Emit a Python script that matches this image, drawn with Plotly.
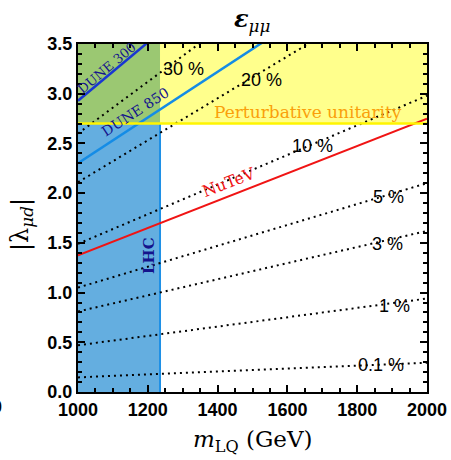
import plotly.graph_objects as go

# ---------------- data ----------------
m_ends = [1000, 2000]                      # GeV, ends of every straight contour
contour_labels = ["0.1 %", "1 %", "3 %", "5 %", "10 %", "20 %", "30 %"]
contour_lam_1000 = [0.147, 0.47, 0.81, 1.05, 1.49, 2.11, 2.60]
contour_lam_2000 = [0.295, 0.94, 1.62, 2.10, 2.98, 4.22, 5.20]
contour_label_m = [1868, 1908, 1888, 1891, 1671, 1527, 1301]
contour_label_lam = [0.27, 0.87, 1.49, 1.96, 2.47, 3.14, 3.25]

nutev_lam = [1.375, 2.75]
dune300_lam = [2.93, 5.86]
dune850_lam = [2.30, 4.60]

lhc_m_bound = 1235          # GeV
unitarity_lam = 2.70
x_range = [1000, 2000]
y_range = [0.0, 3.5]

W, H = 451, 460
ML, MR, MT, MB = 78, 24, 44, 68
PW, PH = W - ML - MR, H - MT - MB


def px(x):   # pixel -> paper x
    return (x - ML) / PW


def py(y):   # pixel -> paper y
    return (H - MB - y) / PH


fig = go.Figure()


# ---------------- shaded regions ----------------
def region(x0, x1, y0, y1, color):
    fig.add_trace(go.Scatter(x=[x0, x1, x1, x0, x0], y=[y0, y0, y1, y1, y0],
                             mode="lines", fill="toself", fillcolor=color,
                             line=dict(width=0), hoverinfo="skip", showlegend=False))


region(x_range[0], lhc_m_bound, y_range[0], unitarity_lam, "rgb(100,174,224)")
region(lhc_m_bound, x_range[1], unitarity_lam, y_range[1], "rgb(255,255,140)")
region(x_range[0], lhc_m_bound, unitarity_lam, y_range[1], "rgb(155,200,114)")

# LHC boundary line
fig.add_trace(go.Scatter(x=[lhc_m_bound, lhc_m_bound], y=[y_range[0], unitarity_lam],
                         mode="lines", line=dict(color="rgb(30,144,230)", width=2),
                         hoverinfo="skip", showlegend=False))

# ---------------- dotted contours ----------------
for a, b in zip(contour_lam_1000, contour_lam_2000):
    fig.add_trace(go.Scatter(x=m_ends, y=[a, b], mode="lines",
                             line=dict(color="black", width=2, dash="2px,4px"),
                             hoverinfo="skip", showlegend=False))

# NuTeV, DUNE lines
fig.add_trace(go.Scatter(x=m_ends, y=nutev_lam, mode="lines",
                         line=dict(color="rgb(240,20,20)", width=2),
                         hoverinfo="skip", showlegend=False))
fig.add_trace(go.Scatter(x=m_ends, y=dune300_lam, mode="lines",
                         line=dict(color="rgb(25,55,210)", width=2.5),
                         hoverinfo="skip", showlegend=False))
fig.add_trace(go.Scatter(x=m_ends, y=dune850_lam, mode="lines",
                         line=dict(color="rgb(20,140,230)", width=2.5),
                         hoverinfo="skip", showlegend=False))
# perturbative unitarity line
fig.add_trace(go.Scatter(x=x_range, y=[unitarity_lam, unitarity_lam], mode="lines",
                         line=dict(color="rgb(255,245,0)", width=2.5),
                         hoverinfo="skip", showlegend=False))

# ---------------- annotations ----------------
C = dict(showarrow=False, xanchor="center", yanchor="middle")
ann = []
for lab, mx, ly in zip(contour_labels, contour_label_m, contour_label_lam):
    ann.append(dict(x=mx, y=ly, xref="x", yref="y", text=lab, **C,
                    font=dict(family="Liberation Sans", size=18, color="black")))

serif = "DejaVu Serif"
navy = "rgb(20,20,140)"
ann += [
    dict(x=px(308), y=py(112), xref="paper", yref="paper", text="Perturbative unitarity", **C,
         font=dict(family=serif, size=17, color="rgb(250,160,10)")),
    dict(x=px(228), y=py(182), xref="paper", yref="paper", text="NuTeV", textangle=-21, **C,
         font=dict(family=serif, size=16, color="rgb(240,20,20)")),
    dict(x=px(106), y=py(68), xref="paper", yref="paper", text="DUNE 300", textangle=-40, **C,
         font=dict(family=serif, size=13, color=navy)),
    dict(x=px(135), y=py(112), xref="paper", yref="paper", text="DUNE 850", textangle=-33, **C,
         font=dict(family=serif, size=14, color=navy)),
    dict(x=px(149), y=py(256), xref="paper", yref="paper", text="<b>LHC</b>", textangle=-90, **C,
         font=dict(family=serif, size=15, color=navy)),
    # title
    dict(x=px(252), y=py(20), xref="paper", yref="paper",
         text="<b><i>ε</i></b><sub><i>μμ</i></sub>", **C,
         font=dict(family=serif, size=24, color="black")),
    # x title
    dict(x=px(253), y=py(441), xref="paper", yref="paper",
         text="<i>m</i><sub>LQ</sub> (GeV)", **C,
         font=dict(family=serif, size=23, color="black")),
    # y title
    dict(x=px(21), y=py(225), xref="paper", yref="paper",
         text="|λ<sub><i>μd</i></sub>|", textangle=-90, **C,
         font=dict(family=serif, size=24, color="black")),
    # stray clipped label at the far left
    dict(x=px(4), y=py(407), xref="paper", yref="paper", text="<b>0</b>",
         showarrow=False, xanchor="right", yanchor="middle",
         font=dict(family="Liberation Sans", size=18, color="black")),
]

axis_common = dict(showline=True, linewidth=2, linecolor="black", mirror="allticks",
                   ticks="inside", ticklen=7, tickwidth=2, tickcolor="black",
                   showgrid=False, zeroline=False, automargin=False,
                   tickfont=dict(family="Liberation Sans", size=18, color="black", weight="bold"))

fig.update_layout(
    width=W, height=H,
    margin=dict(l=ML, r=MR, t=MT, b=MB),
    paper_bgcolor="white", plot_bgcolor="white",
    showlegend=False,
    annotations=ann,
    xaxis=dict(range=x_range, dtick=200, tickformat="d",
               minor=dict(dtick=50, ticks="inside", ticklen=4, tickwidth=1.5, tickcolor="black"),
               **axis_common),
    yaxis=dict(range=y_range, dtick=0.5, tickformat=".1f",
               minor=dict(dtick=0.1, ticks="inside", ticklen=4, tickwidth=1.5, tickcolor="black"),
               **axis_common),
)

fig.write_html("out.html", config=dict(displayModeBar=False),
               post_script="document.body.style.margin='0';document.body.style.overflow='hidden';")
